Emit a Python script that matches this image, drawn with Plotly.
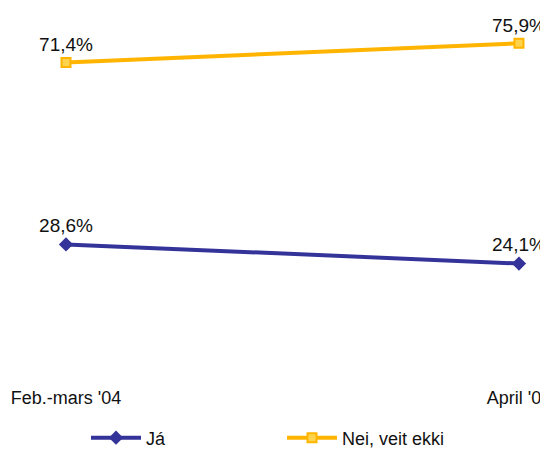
import plotly.graph_objects as go

categories = ["Feb.-mars '04", "April '05"]
ja = [28.6, 24.1]
nei = [71.4, 75.9]
ja_labels = ["28,6%", "24,1%"]
nei_labels = ["71,4%", "75,9%"]

FONT = "Liberation Sans, Arial, sans-serif"
BLUE = "#333399"
YELLOW = "#FFB400"

x = list(range(len(categories)))

fig = go.Figure()
fig.add_trace(go.Scatter(
    x=x, y=ja, name="Já", mode="lines+markers+text",
    line=dict(color=BLUE, width=4),
    marker=dict(symbol="diamond", size=11, color=BLUE),
    text=ja_labels, textposition="top center", cliponaxis=False,
    textfont=dict(family=FONT, size=19, color="#111111"),
))
fig.add_trace(go.Scatter(
    x=x, y=nei, name="Nei, veit ekki", mode="lines+markers+text",
    line=dict(color=YELLOW, width=4),
    marker=dict(symbol="square", size=9, color="#FFD34D", line=dict(color=YELLOW, width=2)),
    text=nei_labels, textposition="top center", cliponaxis=False,
    textfont=dict(family=FONT, size=19, color="#111111"),
))

fig.update_layout(
    width=548, height=451,
    margin=dict(l=20, r=20, t=20, b=93, autoexpand=False),
    paper_bgcolor="white", plot_bgcolor="white",
    font=dict(family=FONT, size=18, color="#111111"),
    showlegend=True,
    legend=dict(orientation="h", x=0.5, xanchor="center", y=-0.213, yanchor="middle",
                itemwidth=50, entrywidth=131,
                font=dict(family=FONT, size=18, color="#111111")),
    xaxis=dict(range=[-0.0839, 1.0376], tickvals=x, ticktext=categories,
               showgrid=False, zeroline=False, showline=False, ticks="",
               automargin=False, ticklabeloverflow="allow",
               ticklabelstandoff=19, tickfont=dict(family=FONT, size=18, color="#111111")),
    yaxis=dict(range=[0, 79.5], visible=False, showgrid=False, zeroline=False, automargin=False),
)

fig.write_html("out.html")
